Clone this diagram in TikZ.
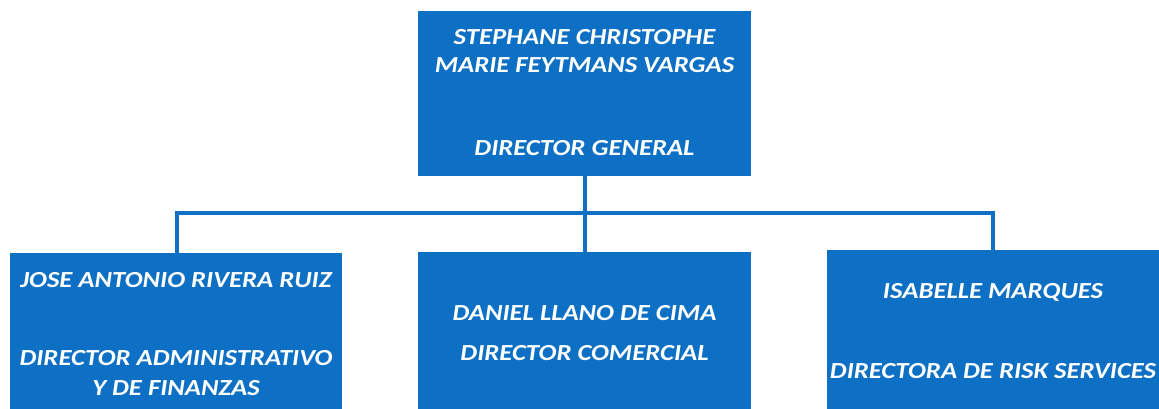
\documentclass[tikz,border=0pt]{standalone}
\usepackage{fontspec}
\setmainfont[FakeStretch=1.16]{Carlito}
\definecolor{boxblue}{HTML}{0D70C4}
\definecolor{lineblue}{HTML}{1270C4}
\begin{document}
\begin{tikzpicture}[x=1pt,y=-1pt,
  box/.style={fill=boxblue, draw=none, inner sep=0pt, minimum width=#1},
  box/.default=333pt,
  lbl/.style={anchor=base, text=white, inner sep=0pt, font=\fontsize{23}{27}\selectfont\bfseries\itshape},
  conn/.style={draw=lineblue, line width=4pt, line cap=rect, line join=miter}]
\useasboundingbox[fill=white] (0,0) rectangle (1159,409);
% boxes
\node[box=333pt, minimum height=165pt] (top) at (584.5,93.5) {};
\node[box=332pt, minimum height=156pt] (left) at (176,331) {};
\node[box=333pt, minimum height=157pt] (mid) at (584.5,330.5) {};
\node[box=332pt, minimum height=159pt] (right) at (993,329.5) {};
% texts
\node[lbl] (t1) at (584.5,45) {STEPHANE CHRISTOPHE};
\node[lbl] (t2) at (584.5,73) {MARIE FEYTMANS VARGAS};
\node[lbl] (t3) at (584.5,155) {DIRECTOR GENERAL};
\node[lbl] (l1) at (176,287) {JOSE ANTONIO RIVERA RUIZ};
\node[lbl] (l2) at (176,365) {DIRECTOR ADMINISTRATIVO};
\node[lbl] (l3) at (176,395) {Y DE FINANZAS};
\node[lbl] (m1) at (584.5,320) {DANIEL LLANO DE CIMA};
\node[lbl] (m2) at (584.5,360) {DIRECTOR COMERCIAL};
\node[lbl] (r1) at (993,298) {ISABELLE MARQUES};
\node[lbl] (r2) at (993,378) {DIRECTORA DE RISK SERVICES};
% connectors
\coordinate (jl) at (177,213);
\coordinate (jr) at (993,213);
\draw[conn] ([yshift=4pt]top.south) -- ([yshift=-5pt]mid.north);
\draw[conn] ([yshift=-6pt]left.north -| jl) -- (jl) -- (jr) -- ([yshift=-7pt]right.north);
\end{tikzpicture}
\end{document}
